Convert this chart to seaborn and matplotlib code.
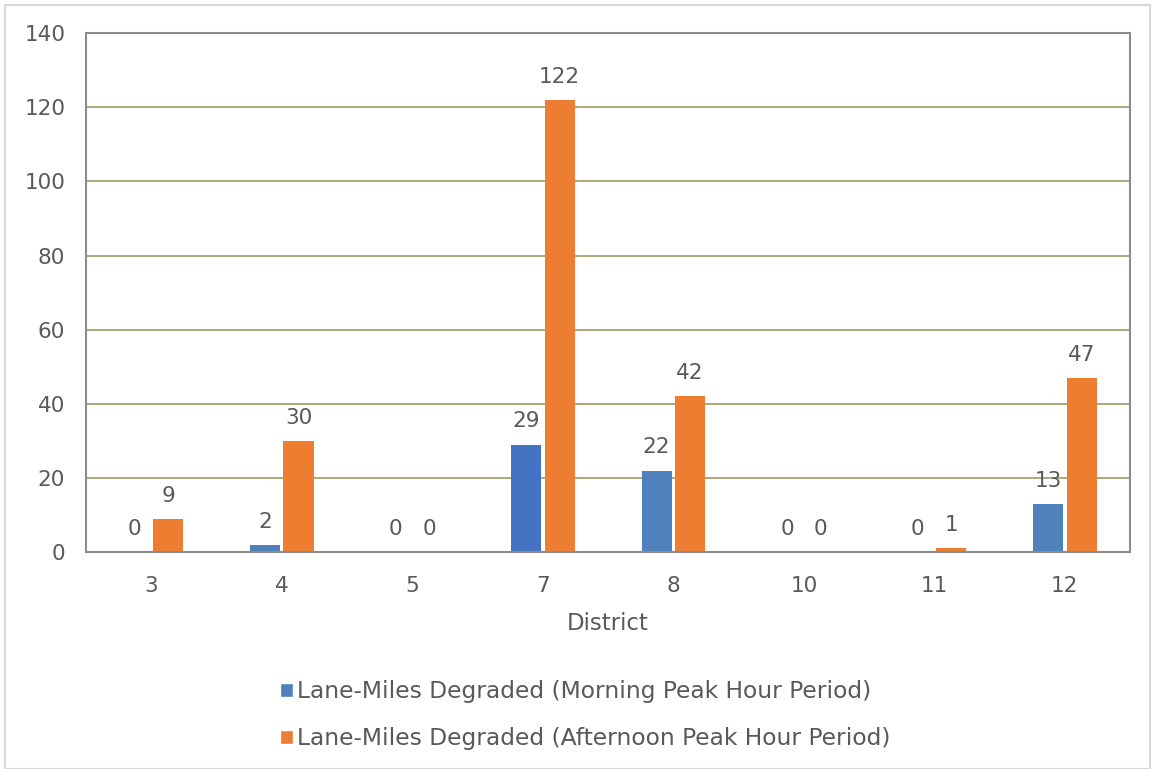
import matplotlib
matplotlib.use("Agg")
import matplotlib.pyplot as plt
from matplotlib.patches import Rectangle
import seaborn as sns
import pandas as pd

districts = ["3", "4", "5", "7", "8", "10", "11", "12"]
morning = [0, 2, 0, 29, 22, 0, 0, 13]
afternoon = [9, 30, 0, 122, 42, 0, 1, 47]
series_names = [
    "Lane-Miles Degraded (Morning Peak Hour Period)",
    "Lane-Miles Degraded (Afternoon Peak Hour Period)",
]
y_ticks = [0, 20, 40, 60, 80, 100, 120, 140]

df = pd.DataFrame({
    "District": districts * 2,
    "Lane-Miles": morning + afternoon,
    "Period": [series_names[0]] * len(districts) + [series_names[1]] * len(districts),
})

sns.set_theme(style="white")
plt.rcParams["font.family"] = ["DejaVu Sans"]
text_color = "#595959"

fig = plt.figure(figsize=(11.52, 7.69), dpi=100)
ax = fig.add_axes([0.0747, 0.282, 0.9063, 0.675])

palette = {series_names[0]: "#4F81BD", series_names[1]: "#ED7D31"}
sns.barplot(data=df, x="District", y="Lane-Miles", hue="Period", order=districts,
            hue_order=series_names, palette=palette, width=0.513, gap=0.1,
            saturation=1, legend=False, linewidth=0, ax=ax)

# District 7 morning bar is drawn in a slightly deeper blue
ax.containers[0][3].set_facecolor("#4472C4")

for cont in ax.containers:
    ax.bar_label(cont, fmt="%d", padding=9.5, fontsize=15.5, color=text_color)

ax.set_ylim(0, 140)
ax.set_yticks(y_ticks)
ax.yaxis.grid(True, color="#A09A62", linewidth=1.2)
ax.set_axisbelow(True)
for sp in ax.spines.values():
    sp.set_visible(True)
    sp.set_color("#8C8C8C")
    sp.set_linewidth(1.5)
ax.tick_params(axis="both", length=0, labelsize=15.5, labelcolor=text_color)
ax.tick_params(axis="y", pad=15)
ax.tick_params(axis="x", pad=17)
ax.set_xlabel("District", fontsize=16.5, color=text_color, labelpad=12)
ax.set_ylabel("")

handles = [Rectangle((0, 0), 1, 1, facecolor=palette[n]) for n in series_names]
fig.legend(handles, series_names, loc="center", bbox_to_anchor=(0.508, 0.07),
           ncol=1, frameon=False, fontsize=16.8, labelcolor=text_color,
           handlelength=0.55, handleheight=0.55, handletextpad=0.2,
           labelspacing=1.05)

fig.patches.append(Rectangle((0.004, 0.0), 0.994, 0.994, transform=fig.transFigure,
                             fill=False, edgecolor="#D9D9D9", linewidth=1.5))

fig.savefig("out.png", dpi=100)
